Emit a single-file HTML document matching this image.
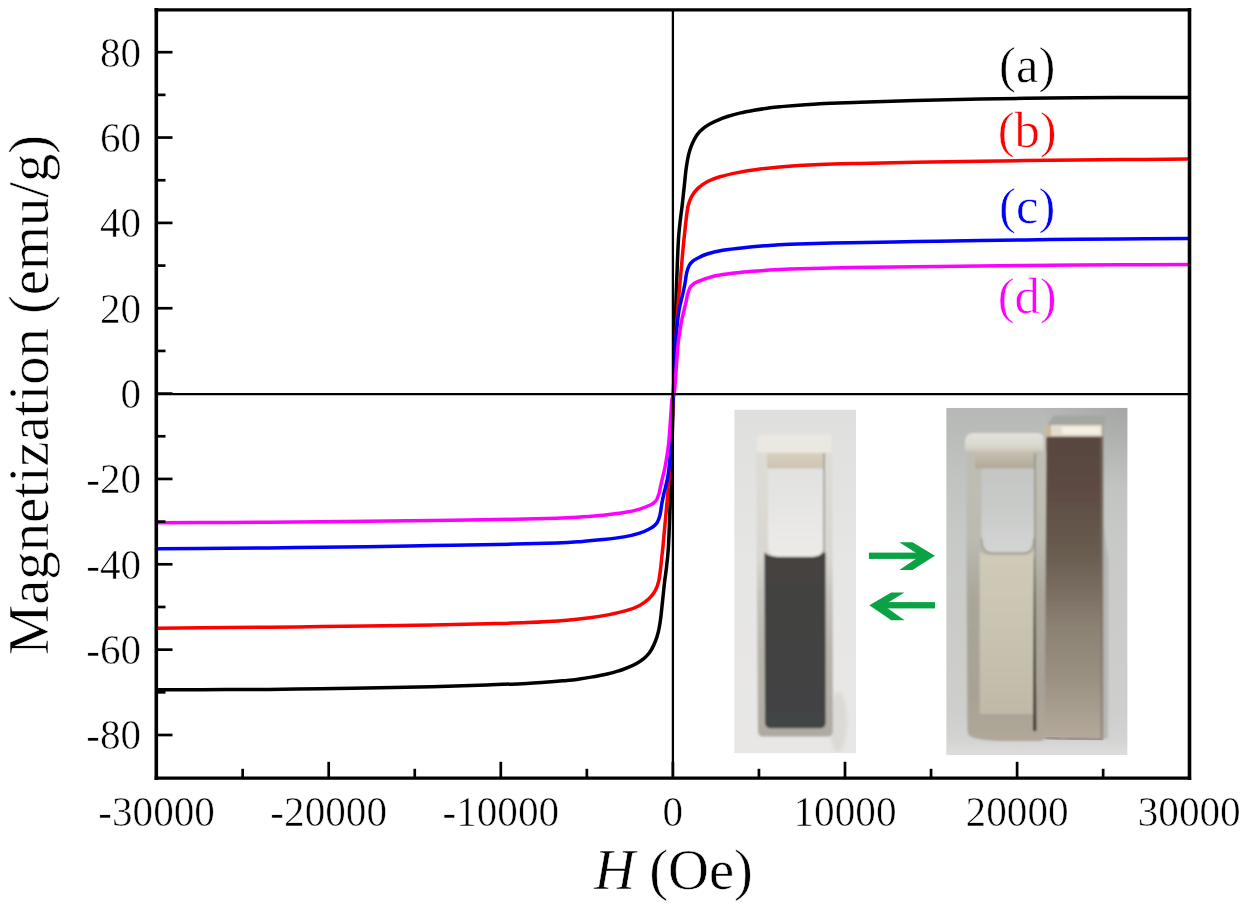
<!DOCTYPE html>
<html><head><meta charset="utf-8"><title>Magnetization curves</title>
<style>html,body{margin:0;padding:0;background:#fff;}body{width:1244px;height:908px;overflow:hidden;font-family:"Liberation Serif",serif;}svg{display:block;filter:blur(0.55px);}text{font-family:"Liberation Serif",serif;paint-order:fill stroke;stroke:#fff;stroke-width:0.55px;stroke-linejoin:round;}</style>
</head><body>
<svg width="1244" height="908" viewBox="0 0 1244 908">
<rect x="0" y="0" width="1244" height="908" fill="#ffffff"/>
<defs>
<filter id="bl" x="-5%" y="-5%" width="110%" height="110%"><feGaussianBlur stdDeviation="0.9"/></filter>
<filter id="bl2" x="-5%" y="-5%" width="110%" height="110%"><feGaussianBlur stdDeviation="1.6"/></filter>
<clipPath id="cpL"><rect x="734.2" y="409.6" width="121.8" height="343.6"/></clipPath>
<clipPath id="cpR"><rect x="946.2" y="407.8" width="181.4" height="347.4"/></clipPath>
<linearGradient id="bgL" x1="0" y1="0" x2="0" y2="1"><stop offset="0" stop-color="#dfdfdd"/><stop offset="0.2" stop-color="#e2e2e0"/><stop offset="0.45" stop-color="#e6e6e4"/><stop offset="1" stop-color="#e8e7e5"/></linearGradient>
<linearGradient id="cuvL" gradientUnits="userSpaceOnUse" x1="0" y1="452" x2="0" y2="737"><stop offset="0" stop-color="#dedcd5"/><stop offset="0.36" stop-color="#d9d7d1"/><stop offset="0.5" stop-color="#c6c3bc"/><stop offset="0.69" stop-color="#b8b4ac"/><stop offset="1" stop-color="#aeaaa2"/></linearGradient>
<linearGradient id="inL" x1="0" y1="0" x2="0" y2="1"><stop offset="0" stop-color="#e1e1e1"/><stop offset="1" stop-color="#ecebe8"/></linearGradient>
<linearGradient id="liqL" x1="0" y1="0" x2="0" y2="1"><stop offset="0" stop-color="#4e4230"/><stop offset="0.025" stop-color="#46403a"/><stop offset="0.05" stop-color="#444240"/><stop offset="0.6" stop-color="#434342"/><stop offset="1" stop-color="#424446"/></linearGradient>
<linearGradient id="bandL" x1="0" y1="0" x2="0" y2="1"><stop offset="0" stop-color="#d8d0c0"/><stop offset="1" stop-color="#cdc3b1"/></linearGradient>
<linearGradient id="bgR" gradientUnits="userSpaceOnUse" x1="0" y1="408" x2="0" y2="755"><stop offset="0" stop-color="#b6b8b6"/><stop offset="0.09" stop-color="#bbbdbb"/><stop offset="0.2" stop-color="#c1c3c1"/><stop offset="0.4" stop-color="#c8cac8"/><stop offset="0.7" stop-color="#cccdcb"/><stop offset="0.88" stop-color="#cecfcd"/><stop offset="0.955" stop-color="#d3d3d1"/><stop offset="1" stop-color="#dddddb"/></linearGradient>
<linearGradient id="cuvR" gradientUnits="userSpaceOnUse" x1="0" y1="452" x2="0" y2="741"><stop offset="0" stop-color="#bebeb4"/><stop offset="0.3" stop-color="#bbbbb1"/><stop offset="0.5" stop-color="#aaa69a"/><stop offset="0.85" stop-color="#a8a296"/><stop offset="1" stop-color="#b0a898"/></linearGradient>
<linearGradient id="liqR" x1="0" y1="0" x2="0" y2="1"><stop offset="0" stop-color="#d0cab8"/><stop offset="0.3" stop-color="#ccc6b4"/><stop offset="0.65" stop-color="#c6c0ae"/><stop offset="1" stop-color="#bfb9a7"/></linearGradient>
<linearGradient id="mag" gradientUnits="userSpaceOnUse" x1="0" y1="425" x2="0" y2="739"><stop offset="0" stop-color="#584640"/><stop offset="0.175" stop-color="#5b4941"/><stop offset="0.414" stop-color="#695d51"/><stop offset="0.525" stop-color="#796d61"/><stop offset="0.653" stop-color="#8d8375"/><stop offset="0.8" stop-color="#9a9082"/><stop offset="0.89" stop-color="#a69c8e"/><stop offset="1" stop-color="#b4aa9c"/></linearGradient>
<linearGradient id="capR" gradientUnits="userSpaceOnUse" x1="0" y1="433" x2="0" y2="452"><stop offset="0" stop-color="#e2e2da"/><stop offset="0.55" stop-color="#dcdbd2"/><stop offset="0.85" stop-color="#d2cec2"/><stop offset="1" stop-color="#cac4b6"/></linearGradient>
<linearGradient id="bandR" gradientUnits="userSpaceOnUse" x1="0" y1="451" x2="0" y2="469"><stop offset="0" stop-color="#c8c1b2"/><stop offset="0.5" stop-color="#bcb4a4"/><stop offset="1" stop-color="#b0a898"/></linearGradient>
<radialGradient id="cornR" gradientUnits="userSpaceOnUse" cx="1127" cy="404" r="85"><stop offset="0" stop-color="#989a98" stop-opacity="0.6"/><stop offset="0.5" stop-color="#9c9e9c" stop-opacity="0.3"/><stop offset="1" stop-color="#9c9e9c" stop-opacity="0"/></radialGradient>
<linearGradient id="inR" x1="0" y1="0" x2="0" y2="1"><stop offset="0" stop-color="#c4c6c4"/><stop offset="0.5" stop-color="#c9cbc9"/><stop offset="1" stop-color="#d3d5d3"/></linearGradient>
</defs>

<g fill="none" stroke-width="3.5" stroke-linejoin="round" stroke-linecap="butt">
<path stroke="#000000" d="M157.3 689.8 C168.9 689.8 203.5 689.7 226.8 689.6 C250.0 689.5 273.5 689.4 296.8 689.1 C320.1 688.9 344.3 688.5 366.8 688.1 C389.3 687.7 411.8 687.2 431.8 686.7 C451.8 686.2 471.0 685.5 486.8 685.0 C502.6 684.5 513.5 684.2 526.8 683.4 C540.1 682.7 558.0 681.2 566.8 680.5 C575.6 679.8 575.2 679.6 579.5 679.0 C583.8 678.4 588.4 677.7 592.8 676.9 C597.2 676.1 601.7 675.3 606.1 674.3 C610.5 673.3 615.6 671.9 619.3 670.7 C623.0 669.6 625.2 668.7 628.2 667.4 C631.1 666.2 634.4 664.7 637.0 663.2 C639.6 661.7 642.0 660.0 644.1 658.3 C646.2 656.6 647.8 654.9 649.4 652.8 C651.0 650.7 652.1 648.5 653.4 645.9 C654.6 643.3 656.0 640.1 656.9 637.1 C657.8 634.1 658.5 631.4 659.1 628.2 C659.7 625.1 660.1 622.7 660.7 618.2 C661.3 613.8 661.8 607.8 662.5 601.5 C663.2 595.2 664.1 586.0 664.8 580.3 C665.5 574.6 665.9 572.5 666.5 567.2 C667.1 561.9 667.8 556.1 668.3 548.6 C668.8 541.1 669.1 532.4 669.5 522.2 C669.9 512.0 670.3 501.4 670.8 487.2 C671.2 473.0 671.8 452.7 672.2 437.2 C672.6 421.7 673.0 408.5 673.4 394.0 C673.8 379.5 674.2 365.7 674.6 350.0 C675.0 334.3 675.5 314.2 676.0 300.0 C676.5 285.8 676.9 275.2 677.3 265.0 C677.7 254.8 678.0 246.1 678.5 238.6 C679.0 231.1 679.7 225.3 680.3 220.0 C680.9 214.7 681.3 212.6 682.0 206.9 C682.7 201.2 683.6 192.0 684.3 185.7 C685.0 179.4 685.5 173.4 686.1 169.0 C686.7 164.6 687.1 162.2 687.7 159.0 C688.3 155.8 689.0 153.0 689.9 150.1 C690.8 147.2 692.1 143.9 693.4 141.3 C694.6 138.7 695.8 136.5 697.4 134.4 C699.0 132.3 700.6 130.6 702.7 128.9 C704.8 127.2 707.1 125.5 709.8 124.0 C712.4 122.5 715.6 121.0 718.6 119.8 C721.6 118.5 723.8 117.7 727.5 116.5 C731.2 115.3 736.3 113.9 740.7 112.9 C745.1 111.9 749.6 111.1 754.0 110.3 C758.4 109.5 763.0 108.8 767.3 108.2 C771.6 107.6 771.2 107.4 780.0 106.7 C788.8 106.0 806.7 104.5 820.0 103.8 C833.3 103.0 844.2 102.8 860.0 102.2 C875.8 101.7 895.0 101.0 915.0 100.5 C935.0 100.0 957.5 99.5 980.0 99.1 C1002.5 98.7 1026.7 98.3 1050.0 98.1 C1073.3 97.8 1096.8 97.7 1120.0 97.6 C1143.2 97.5 1177.9 97.4 1189.5 97.4"/>
<path stroke="#ff0000" d="M157.3 628.2 C168.9 628.1 203.5 627.8 226.8 627.6 C250.0 627.4 273.5 627.2 296.8 626.9 C320.1 626.6 344.3 626.3 366.8 626.0 C389.3 625.7 411.8 625.3 431.8 624.9 C451.8 624.5 471.0 624.2 486.8 623.8 C502.6 623.4 513.4 623.2 526.8 622.6 C540.2 622.0 556.8 621.0 567.0 620.2 C577.2 619.4 581.0 618.9 588.1 618.0 C595.1 617.1 602.8 615.9 609.3 614.6 C615.8 613.3 621.9 611.9 626.9 610.4 C631.9 608.9 635.5 607.6 639.2 605.7 C642.9 603.8 646.2 601.3 648.9 598.8 C651.5 596.3 653.5 593.8 655.1 590.9 C656.7 588.1 657.7 585.6 658.6 581.7 C659.5 577.8 660.0 573.5 660.7 567.6 C661.4 561.7 662.2 554.2 663.0 546.2 C663.8 538.2 664.6 527.9 665.4 519.7 C666.1 511.5 666.8 505.1 667.5 497.2 C668.2 489.3 668.8 482.2 669.5 472.2 C670.2 462.2 670.9 450.2 671.6 437.2 C672.3 424.2 672.9 408.5 673.5 394.0 C674.1 379.5 674.6 363.2 675.2 350.0 C675.8 336.8 676.6 325.0 677.3 315.0 C678.0 305.0 678.6 297.9 679.3 290.0 C680.0 282.1 680.6 275.7 681.4 267.5 C682.1 259.3 683.0 249.0 683.8 241.0 C684.6 233.0 685.4 225.5 686.1 219.6 C686.8 213.7 687.3 209.4 688.2 205.5 C689.1 201.6 690.1 199.2 691.7 196.3 C693.3 193.5 695.2 190.9 697.9 188.4 C700.5 185.9 703.9 183.4 707.6 181.5 C711.3 179.6 714.9 178.3 719.9 176.8 C724.9 175.3 731.0 173.9 737.5 172.6 C744.0 171.3 751.7 170.1 758.7 169.2 C765.8 168.3 769.6 167.8 779.8 167.0 C790.0 166.2 806.6 165.2 820.0 164.6 C833.4 164.0 844.2 163.8 860.0 163.4 C875.8 163.0 895.0 162.7 915.0 162.3 C935.0 161.9 957.5 161.5 980.0 161.2 C1002.5 160.9 1026.7 160.6 1050.0 160.3 C1073.3 160.0 1096.8 159.8 1120.0 159.6 C1143.2 159.4 1177.9 159.1 1189.5 159.0"/>
<path stroke="#0000ff" d="M157.3 548.8 C168.9 548.7 203.5 548.5 226.8 548.3 C250.0 548.1 273.5 547.9 296.8 547.6 C320.1 547.3 344.3 547.0 366.8 546.7 C389.3 546.4 410.1 546.0 431.8 545.6 C453.5 545.2 476.0 544.9 496.8 544.5 C517.6 544.1 542.6 543.5 556.8 543.0 C571.0 542.5 574.5 542.0 582.2 541.4 C589.9 540.8 596.1 540.2 603.1 539.5 C610.1 538.8 617.9 538.0 624.0 536.9 C630.1 535.9 635.3 534.6 639.7 533.2 C644.1 531.8 647.8 529.7 650.2 528.5 C652.6 527.3 653.0 526.9 654.2 525.8 C655.4 524.7 656.5 523.9 657.5 522.0 C658.5 520.1 659.4 517.5 660.1 514.6 C660.8 511.7 661.1 507.8 661.7 504.4 C662.3 501.0 663.0 497.5 663.8 494.0 C664.6 490.5 665.6 487.1 666.4 483.5 C667.2 479.9 667.7 478.9 668.5 472.2 C669.3 465.5 670.7 454.0 671.4 443.2 C672.1 432.4 672.2 415.4 672.6 407.2 C673.0 399.0 673.3 398.5 673.6 394.0 C673.9 389.5 673.9 388.3 674.2 380.0 C674.5 371.7 674.7 354.8 675.4 344.0 C676.1 333.2 677.5 321.7 678.3 315.0 C679.1 308.3 679.6 307.3 680.4 303.7 C681.2 300.1 682.2 296.7 683.0 293.2 C683.8 289.7 684.5 286.2 685.1 282.8 C685.7 279.4 686.0 275.5 686.7 272.6 C687.4 269.7 688.3 267.1 689.3 265.2 C690.3 263.3 691.4 262.5 692.6 261.4 C693.8 260.3 694.2 259.9 696.6 258.7 C699.0 257.5 702.7 255.4 707.1 254.0 C711.5 252.6 716.7 251.4 722.8 250.3 C728.9 249.2 736.7 248.4 743.7 247.7 C750.7 246.9 756.9 246.4 764.6 245.8 C772.3 245.2 775.8 244.7 790.0 244.2 C804.2 243.7 829.2 243.1 850.0 242.7 C870.8 242.3 893.3 242.0 915.0 241.6 C936.7 241.2 957.5 240.8 980.0 240.5 C1002.5 240.2 1026.7 239.9 1050.0 239.6 C1073.3 239.3 1096.8 239.1 1120.0 238.9 C1143.2 238.7 1177.9 238.5 1189.5 238.4"/>
<path stroke="#ff00ff" d="M157.3 522.8 C168.9 522.7 203.5 522.6 226.8 522.4 C250.0 522.3 273.5 522.1 296.8 521.9 C320.1 521.7 344.3 521.5 366.8 521.3 C389.3 521.1 410.1 520.8 431.8 520.5 C453.5 520.2 476.0 520.0 496.8 519.6 C517.6 519.2 542.6 518.7 556.8 518.2 C571.0 517.7 574.5 517.3 582.2 516.8 C589.9 516.3 596.1 515.9 603.1 515.2 C610.1 514.5 617.9 513.6 624.0 512.6 C630.1 511.6 635.3 510.4 639.7 509.1 C644.1 507.8 647.9 506.0 650.2 505.0 C652.5 504.0 652.5 503.8 653.6 503.0 C654.6 502.2 655.6 501.6 656.5 500.0 C657.4 498.4 658.4 495.6 659.1 493.2 C659.8 490.8 660.1 488.3 660.7 485.6 C661.3 482.9 661.9 480.6 662.7 477.2 C663.5 473.8 664.4 470.9 665.4 465.2 C666.4 459.5 667.9 450.5 668.7 443.2 C669.5 435.9 669.8 428.5 670.4 421.2 C671.0 413.9 671.4 403.7 672.0 399.2 C672.6 394.7 673.4 395.9 673.9 394.0 C674.4 392.1 674.4 392.7 674.8 388.0 C675.2 383.3 675.8 373.3 676.4 366.0 C677.0 358.7 677.3 351.3 678.1 344.0 C678.9 336.7 680.4 327.7 681.4 322.0 C682.4 316.3 683.3 313.4 684.1 310.0 C684.9 306.6 685.5 304.3 686.1 301.6 C686.7 298.9 687.0 296.4 687.7 294.0 C688.4 291.6 689.4 288.8 690.3 287.2 C691.2 285.6 692.2 285.0 693.2 284.2 C694.2 283.4 694.3 283.2 696.6 282.2 C698.9 281.2 702.7 279.4 707.1 278.1 C711.5 276.8 716.7 275.6 722.8 274.6 C728.9 273.6 736.7 272.7 743.7 272.0 C750.7 271.3 756.9 270.9 764.6 270.4 C772.3 269.9 775.8 269.5 790.0 269.0 C804.2 268.5 829.2 268.0 850.0 267.6 C870.8 267.2 893.3 267.0 915.0 266.7 C936.7 266.4 957.5 266.1 980.0 265.9 C1002.5 265.7 1026.7 265.5 1050.0 265.3 C1073.3 265.1 1096.8 265.0 1120.0 264.8 C1143.2 264.6 1177.9 264.5 1189.5 264.4"/>
</g>
<g stroke="#000" stroke-width="2.3">
<line x1="156.3" y1="394.2" x2="1189.5" y2="394.2"/>
<line x1="672.9" y1="9.8" x2="672.9" y2="778.0"/>
</g>

<g clip-path="url(#cpL)">
<rect x="734.2" y="409.6" width="121.8" height="343.6" fill="url(#bgL)"/>
<g filter="url(#bl)">
<ellipse cx="838" cy="722" rx="9" ry="30" fill="#d6d4d0" opacity="0.7" filter="url(#bl2)"/>
<path d="M756 452 H832.4 L832.8 731 Q832.8 736.5 827.3 736.5 H763.5 Q758 736.5 758 731 Z" fill="url(#cuvL)"/>
<rect x="767" y="452.6" width="56.6" height="16.2" fill="url(#bandL)"/>
<path d="M768 468.5 H823 V546 Q823 556 813 556 H778 Q768 556 768 546 Z" fill="url(#inL)"/>
<path d="M764.4 553 Q764.4 552 765.4 553 Q768 556 778 557 H813 Q822 556 823.6 551 L825.6 553 V722.5 Q825.6 728.3 819.6 728.3 H771 Q765.2 728.3 765 722.5 Z" fill="url(#liqL)"/>
<rect x="823.4" y="453" width="1.6" height="100" fill="#9c988c"/>
<path d="M757 438.8 Q757 434.6 761.5 434.6 H827 Q831.3 434.6 831.3 438.8 V452.8 H757 Z" fill="#eae8e1"/>
</g>
</g>
<g clip-path="url(#cpR)">
<rect x="946.2" y="407.8" width="181.4" height="347.4" fill="url(#bgR)"/>
<rect x="1040" y="407.8" width="87.6" height="90" fill="url(#cornR)"/>
<g filter="url(#bl)">
<path d="M966 452 H1045.5 V735 Q1045.5 740 1040.5 741 H1000 Q975 740 970 736 Q967.4 734 967.4 730 Z" fill="url(#cuvR)"/>
<rect x="975" y="451" width="60" height="17.8" fill="url(#bandR)"/>
<path d="M981.5 468.5 H1034 V541 Q1034 552 1023 552 H992 Q981.5 552 981.5 541 Z" fill="url(#inR)"/>
<path d="M979.7 551 Q983 555 992 555 H1023 Q1032 554.5 1034.7 550 V714 H979.7 Z" fill="url(#liqR)"/>
<path d="M981.5 538 Q981.5 553 993 553.5 H1023 Q1034 553 1034 538" fill="none" stroke="#a49e8c" stroke-width="1.6"/>
<path d="M1035 556 L1036.4 731 L1033 731 L1034 556 Z" fill="#3a342c"/>
<rect x="1034.4" y="453" width="1.2" height="104" fill="#8a8478"/>
<path d="M1054 415.4 H1103 Q1106.5 415.4 1106 419 L1104.8 425.5 H1046.8 Z" fill="#a4a6a2"/>
<path d="M1103 520 L1108.5 560 L1108 738 L1103 739 Z" fill="#b2b2ac" opacity="0.8"/>
<path d="M1046.6 425 H1102.6 L1103.2 739.6 L1060 738.6 L1044.4 737.4 Z" fill="url(#mag)"/>
<path d="M1100.2 437 H1103.6 L1103.2 739 H1100.6 Z" fill="#7a6e64" opacity="0.5"/>
<path d="M1044.8 425 H1102.2 L1102.1 436.4 H1044.8 Z" fill="#e4dccb"/>
<path d="M1044.8 425 H1051 V436.4 H1044.8 Z" fill="#c8b8a0"/>
<path d="M1062 427 H1100 V434 H1062 Z" fill="#f4f0e6"/>
<path d="M965 442 Q965 433 974 433 H1038 Q1043.6 433 1043.6 439 V451.6 H965 Z" fill="url(#capR)"/>
</g>
<path d="M1045 737.6 L1060 738.8 L1102.7 739.8" stroke="#5a5048" stroke-width="1.3" fill="none" filter="url(#bl)"/>
</g>
<g fill="#0ba245">
<rect x="868.9" y="552.6" width="52" height="6.3"/>
<path d="M899.3 542.2 H912.5 L934.9 555.75 L912.5 569.9 H899.3 L920.5 555.75 Z"/>
<rect x="883" y="602.1" width="52" height="6.3"/>
<path d="M904.5 592.5 H891.3 L869.3 605.25 L891.3 620.2 H904.5 L883.5 605.25 Z"/>
</g>

<g stroke="#000" stroke-width="2.7">
<line x1="156.3" y1="735.00" x2="172.5" y2="735.00"/>
<line x1="156.3" y1="692.33" x2="165.5" y2="692.33"/>
<line x1="156.3" y1="649.65" x2="172.5" y2="649.65"/>
<line x1="156.3" y1="606.98" x2="165.5" y2="606.98"/>
<line x1="156.3" y1="564.30" x2="172.5" y2="564.30"/>
<line x1="156.3" y1="521.62" x2="165.5" y2="521.62"/>
<line x1="156.3" y1="478.95" x2="172.5" y2="478.95"/>
<line x1="156.3" y1="436.28" x2="165.5" y2="436.28"/>
<line x1="156.3" y1="393.60" x2="172.5" y2="393.60"/>
<line x1="156.3" y1="350.93" x2="165.5" y2="350.93"/>
<line x1="156.3" y1="308.25" x2="172.5" y2="308.25"/>
<line x1="156.3" y1="265.58" x2="165.5" y2="265.58"/>
<line x1="156.3" y1="222.90" x2="172.5" y2="222.90"/>
<line x1="156.3" y1="180.23" x2="165.5" y2="180.23"/>
<line x1="156.3" y1="137.55" x2="172.5" y2="137.55"/>
<line x1="156.3" y1="94.88" x2="165.5" y2="94.88"/>
<line x1="156.3" y1="52.20" x2="172.5" y2="52.20"/>
<line x1="242.65" y1="778.0" x2="242.65" y2="768.8"/>
<line x1="328.70" y1="778.0" x2="328.70" y2="761.8"/>
<line x1="414.75" y1="778.0" x2="414.75" y2="768.8"/>
<line x1="500.80" y1="778.0" x2="500.80" y2="761.8"/>
<line x1="586.85" y1="778.0" x2="586.85" y2="768.8"/>
<line x1="672.90" y1="778.0" x2="672.90" y2="761.8"/>
<line x1="758.95" y1="778.0" x2="758.95" y2="768.8"/>
<line x1="845.00" y1="778.0" x2="845.00" y2="761.8"/>
<line x1="931.05" y1="778.0" x2="931.05" y2="768.8"/>
<line x1="1017.10" y1="778.0" x2="1017.10" y2="761.8"/>
<line x1="1103.15" y1="778.0" x2="1103.15" y2="768.8"/>
</g>
<g stroke="#000" stroke-linecap="square">
<line x1="156.3" y1="9.8" x2="1189.5" y2="9.8" stroke-width="3.2"/>
<line x1="156.3" y1="778.2" x2="1189.5" y2="778.2" stroke-width="3.2"/>
<line x1="156.3" y1="9.8" x2="156.3" y2="778.2" stroke-width="3.6"/>
<line x1="1189.5" y1="9.8" x2="1189.5" y2="778.2" stroke-width="3.6"/>
</g>
<g font-size="41.2px" fill="#000">
<text x="141.1" y="749.3" text-anchor="end">-80</text>
<text x="141.1" y="664.0" text-anchor="end">-60</text>
<text x="141.1" y="578.6" text-anchor="end">-40</text>
<text x="141.1" y="493.3" text-anchor="end">-20</text>
<text x="141.1" y="407.9" text-anchor="end">0</text>
<text x="141.1" y="322.6" text-anchor="end">20</text>
<text x="141.1" y="237.2" text-anchor="end">40</text>
<text x="141.1" y="151.9" text-anchor="end">60</text>
<text x="141.1" y="66.5" text-anchor="end">80</text>
<text x="156.6" y="825.5" text-anchor="middle">-30000</text>
<text x="328.7" y="825.5" text-anchor="middle">-20000</text>
<text x="500.8" y="825.5" text-anchor="middle">-10000</text>
<text x="672.9" y="825.5" text-anchor="middle">0</text>
<text x="845.0" y="825.5" text-anchor="middle">10000</text>
<text x="1017.1" y="825.5" text-anchor="middle">20000</text>
<text x="1189.2" y="825.5" text-anchor="middle">30000</text>
</g>
<text x="594.2" y="889.3" font-size="56.6px" fill="#000"><tspan font-style="italic">H</tspan> (Oe)</text>
<text transform="translate(47.6,395) rotate(-90)" font-size="56.6px" text-anchor="middle" fill="#000">Magnetization (emu/g)</text>
<g font-size="50.6px" text-anchor="middle">
<text x="1027.2" y="81.8" fill="#000000">(a)</text>
<text x="1027.2" y="147.4" fill="#ff0000">(b)</text>
<text x="1027.2" y="222.7" fill="#0000ff">(c)</text>
<text x="1027.2" y="312.5" fill="#ff00ff">(d)</text>
</g>
</svg>
</body></html>
